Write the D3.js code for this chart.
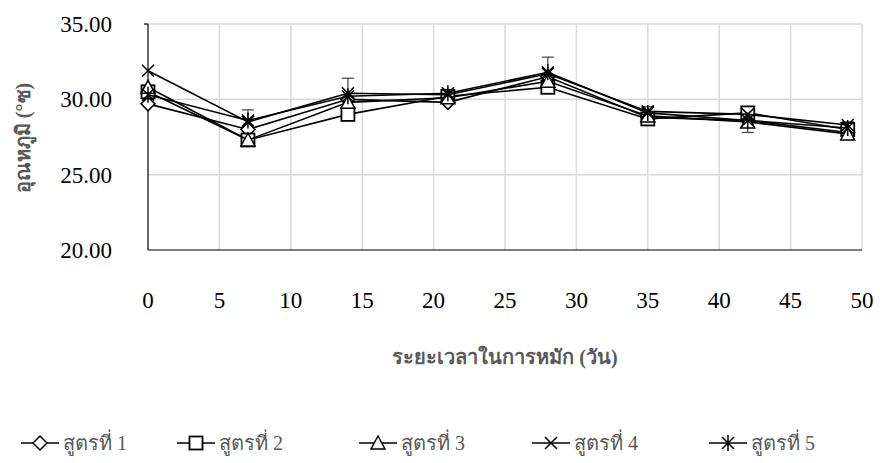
<!DOCTYPE html>
<html>
<head>
<meta charset="utf-8">
<script src="https://cdn.jsdelivr.net/npm/d3@7/dist/d3.min.js"></script>
<style>
  body { margin: 0; background: #fff; }
  text { font-family: "Liberation Serif", "Times New Roman", serif; }
</style>
</head>
<body>
<div id="chart"></div>
<script>
'use strict'

// days of composting
const days = [0, 7, 14, 21, 28, 35, 42, 49];
const seriesNames = ['สูตรที่ 1', 'สูตรที่ 2', 'สูตรที่ 3', 'สูตรที่ 4', 'สูตรที่ 5'];
const markers = ['diamond', 'square', 'triangle', 'cross', 'star'];

const s1 = [29.7, 28.0, 30.0, 29.8, 31.5, 28.8, 28.6, 27.8];
const s2 = [30.5, 27.3, 29.0, 30.2, 30.8, 28.7, 29.1, 28.0];
const s3 = [30.8, 27.3, 29.8, 30.1, 31.2, 28.9, 28.5, 27.7];
const s4 = [31.9, 28.5, 30.4, 30.3, 31.7, 29.2, 29.0, 28.3];
const s5 = [30.3, 28.6, 30.2, 30.4, 31.8, 29.1, 28.6, 28.1];
const errs5 = [0.3, 0.7, 1.2, 0.2, 1.0, 0.4, 0.8, 0.4];

const xTicks = [0, 5, 10, 15, 20, 25, 30, 35, 40, 45, 50];
const yTicks = [20, 25, 30, 35];

const allSeries = [s1, s2, s3, s4, s5];

var W = 880, H = 463;
var pLeft = 148, pRight = 862, pTop = 24, pBottom = 250;

var svg = d3.select('#chart').append('svg')
    .attr('width', W).attr('height', H);

var x = d3.scaleLinear().domain([0, 50]).range([pLeft, pRight]);
var y = d3.scaleLinear().domain([20, 35]).range([pBottom, pTop]);

// grid
svg.append('g').selectAll('line')
    .data(xTicks.slice(1))
    .enter().append('line')
    .attr('x1', d => x(d)).attr('x2', d => x(d))
    .attr('y1', pTop).attr('y2', pBottom)
    .style('stroke', '#d9d9d9').style('stroke-width', 1.5);

svg.append('g').selectAll('line')
    .data(yTicks.slice(1))
    .enter().append('line')
    .attr('x1', pLeft).attr('x2', pRight)
    .attr('y1', d => y(d)).attr('y2', d => y(d))
    .style('stroke', '#d9d9d9').style('stroke-width', 1.5);

// axes lines
svg.append('line')
    .attr('x1', pLeft).attr('x2', pLeft).attr('y1', pTop).attr('y2', pBottom)
    .style('stroke', '#000').style('stroke-width', 1.2);
svg.append('line')
    .attr('x1', pLeft).attr('x2', pRight).attr('y1', pBottom).attr('y2', pBottom)
    .style('stroke', '#000').style('stroke-width', 1.2);
svg.append('line')
    .attr('x1', pLeft - 4).attr('x2', pLeft).attr('y1', pTop).attr('y2', pTop)
    .style('stroke', '#000').style('stroke-width', 1.2);

// tick labels
svg.append('g').selectAll('text')
    .data(yTicks)
    .enter().append('text')
    .attr('x', 112)
    .attr('y', d => y(d) + 8)
    .attr('text-anchor', 'end')
    .style('font-size', '23px')
    .text(d => d.toFixed(2));

svg.append('g').selectAll('text')
    .data(xTicks)
    .enter().append('text')
    .attr('x', d => x(d))
    .attr('y', 308)
    .attr('text-anchor', 'middle')
    .style('font-size', '23px')
    .text(d => d);

// titles
svg.append('text')
    .attr('x', 505).attr('y', 364)
    .attr('text-anchor', 'middle')
    .style('font-size', '20px').style('font-weight', 'bold').style('fill', '#595959')
    .text('ระยะเวลาในการหมัก (วัน)');

svg.append('text')
    .attr('transform', 'translate(30,138) rotate(-90)')
    .attr('text-anchor', 'middle')
    .style('font-size', '20px').style('font-weight', 'bold').style('fill', '#595959')
    .text('อุณหภูมิ (°ซ)');

// error bars
var eb = svg.append('g');
days.forEach((d, i) => {
    var cx = x(d);
    eb.append('line')
        .attr('x1', cx).attr('x2', cx)
        .attr('y1', y(s5[i] - errs5[i])).attr('y2', y(s5[i] + errs5[i]))
        .style('stroke', '#404040').style('stroke-width', 1.2);
    [s5[i] - errs5[i], s5[i] + errs5[i]].forEach(v => {
        eb.append('line')
            .attr('x1', cx - 6).attr('x2', cx + 6)
            .attr('y1', y(v)).attr('y2', y(v))
            .style('stroke', '#404040').style('stroke-width', 1.2);
    });
});

var line = d3.line()
    .x((d, i) => x(days[i]))
    .y(d => y(d));

function drawMarker(g, type, cx, cy) {
    var r = 7;
    if (type === 'diamond') {
        g.append('path')
            .attr('d', `M${cx},${cy - r}L${cx + r},${cy}L${cx},${cy + r}L${cx - r},${cy}Z`)
            .style('fill', '#fff').style('stroke', '#000').style('stroke-width', 1.5);
    } else if (type === 'square') {
        g.append('rect')
            .attr('x', cx - 6.5).attr('y', cy - 6.5)
            .attr('width', 13).attr('height', 13)
            .style('fill', '#fff').style('stroke', '#000').style('stroke-width', 1.8);
    } else if (type === 'triangle') {
        g.append('path')
            .attr('d', `M${cx},${cy - r}L${cx + r},${cy + 6}L${cx - r},${cy + 6}Z`)
            .style('fill', '#fff').style('stroke', '#000').style('stroke-width', 1.5);
    } else {
        var k = 6;
        g.append('path')
            .attr('d', `M${cx - k},${cy - k}L${cx + k},${cy + k}M${cx - k},${cy + k}L${cx + k},${cy - k}` +
                (type === 'star' ? `M${cx},${cy - 8}L${cx},${cy + 8}` : ''))
            .style('fill', 'none').style('stroke', '#000').style('stroke-width', 1.5);
    }
}

allSeries.forEach((s, k) => {
    var g = svg.append('g');
    g.append('path')
        .datum(s)
        .attr('d', line)
        .style('fill', 'none')
        .style('stroke', '#000')
        .style('stroke-width', 1.6);
    s.forEach((v, i) => drawMarker(g, markers[k], x(days[i]), y(v)));
});

// legend
var legX = [21, 177, 359, 532, 709];
var leg = svg.append('g');
seriesNames.forEach((name, k) => {
    var lx = legX[k], ly = 443;
    leg.append('line')
        .attr('x1', lx).attr('x2', lx + 38)
        .attr('y1', ly).attr('y2', ly)
        .style('stroke', '#000').style('stroke-width', 1.6);
    drawMarker(leg, markers[k], lx + 19, ly);
    leg.append('text')
        .attr('x', lx + 42).attr('y', ly + 7)
        .style('font-size', '20px').style('fill', '#595959')
        .text(name);
});
</script>
</body>
</html>
